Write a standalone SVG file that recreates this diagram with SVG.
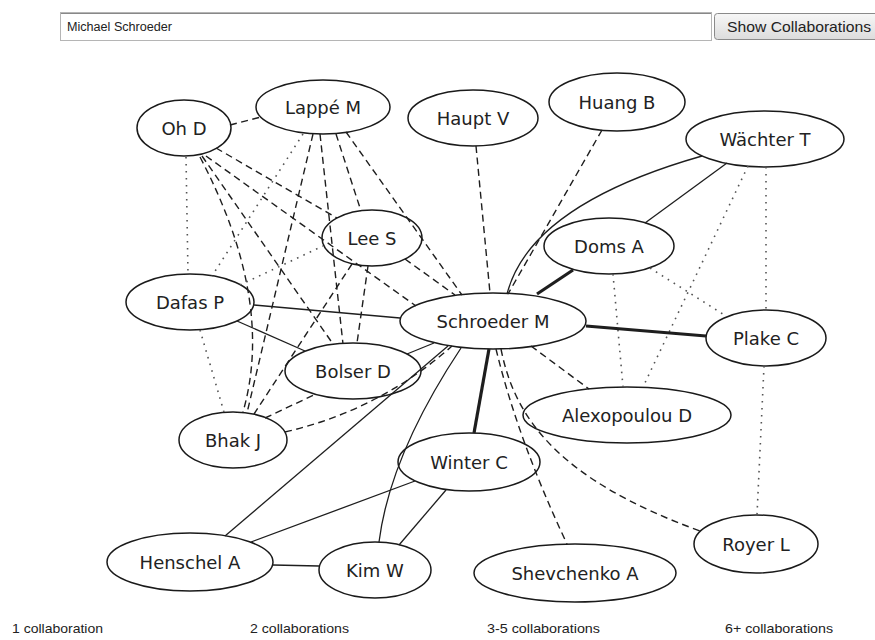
<svg xmlns="http://www.w3.org/2000/svg" width="875" height="640" viewBox="0 0 875 640">
<defs>
<linearGradient id="btn" x1="0" y1="0" x2="0" y2="1">
<stop offset="0" stop-color="#f7f7f7"/><stop offset="1" stop-color="#dcdcdc"/>
</linearGradient>
<style>
.node ellipse{fill:#fff;stroke:#1a1a1a;stroke-width:1.5}
.node text{font-family:"DejaVu Sans",sans-serif;font-size:18px;fill:#222;text-anchor:middle}
.e{fill:none;stroke:#1e1e1e}
.dot{stroke-width:1.6;stroke-dasharray:1.6 5.4;stroke:#555}
.dash{stroke-width:1.4;stroke-dasharray:7 4.5}
.thin{stroke-width:1.3}
.thick{stroke-width:3.2}
.ui{font-family:"Liberation Sans",Arial,sans-serif;fill:#222}
.leg{font-family:"Liberation Sans",Arial,sans-serif;font-size:13px;fill:#222}
</style>
</defs>
<rect width="875" height="640" fill="#fff"/>
<g id="search">
<rect x="60.5" y="12.5" width="651" height="28" fill="#fff" stroke="#b5b5b5"/>
<line x1="61" y1="13.5" x2="711" y2="13.5" stroke="#888"/>
<text class="ui" x="67" y="30.5" font-size="12.5" textLength="105" lengthAdjust="spacingAndGlyphs">Michael Schroeder</text>
</g>
<g id="button">
<rect x="714.5" y="13.5" width="170" height="26" rx="3" fill="url(#btn)" stroke="#8a8a8a"/>
<text class="ui" x="727" y="31.5" font-size="15" textLength="144" lengthAdjust="spacingAndGlyphs">Show Collaborations</text>
</g>
<g id="n-ohd" class="node"><ellipse cx="184" cy="128" rx="47" ry="28"/><text x="184" y="134.5">Oh D</text></g>
<g id="n-lappe" class="node"><ellipse cx="323" cy="107" rx="67" ry="27"/><text x="323" y="113.5">Lappé M</text></g>
<g id="n-haupt" class="node"><ellipse cx="473" cy="118" rx="65" ry="28"/><text x="473" y="124.5">Haupt V</text></g>
<g id="n-huang" class="node"><ellipse cx="617" cy="102" rx="68" ry="29"/><text x="617" y="108.5">Huang B</text></g>
<g id="n-waechter" class="node"><ellipse cx="765" cy="139" rx="79" ry="28"/><text x="765" y="145.5">Wächter T</text></g>
<g id="n-lee" class="node"><ellipse cx="372" cy="238" rx="50" ry="28"/><text x="372" y="244.5">Lee S</text></g>
<g id="n-doms" class="node"><ellipse cx="609" cy="246" rx="65" ry="28"/><text x="609" y="252.5">Doms A</text></g>
<g id="n-dafas" class="node"><ellipse cx="190" cy="302" rx="64" ry="28"/><text x="190" y="308.5">Dafas P</text></g>
<g id="n-schroeder" class="node"><ellipse cx="493" cy="321" rx="93" ry="28"/><text x="493" y="327.5">Schroeder M</text></g>
<g id="n-plake" class="node"><ellipse cx="766" cy="338" rx="60" ry="28"/><text x="766" y="344.5">Plake C</text></g>
<g id="n-bolser" class="node"><ellipse cx="353" cy="371" rx="68" ry="28"/><text x="353" y="377.5">Bolser D</text></g>
<g id="n-alexopoulou" class="node"><ellipse cx="627" cy="415" rx="104" ry="28"/><text x="627" y="421.5">Alexopoulou D</text></g>
<g id="n-bhak" class="node"><ellipse cx="233" cy="440" rx="54" ry="28"/><text x="233" y="446.5">Bhak J</text></g>
<g id="n-winter" class="node"><ellipse cx="469" cy="462" rx="71" ry="29"/><text x="469" y="468.5">Winter C</text></g>
<g id="n-henschel" class="node"><ellipse cx="190" cy="562" rx="83" ry="29"/><text x="190" y="568.5">Henschel A</text></g>
<g id="n-kim" class="node"><ellipse cx="375" cy="570" rx="56" ry="28"/><text x="375" y="576.5">Kim W</text></g>
<g id="n-shevchenko" class="node"><ellipse cx="575" cy="573" rx="101" ry="29"/><text x="575" y="579.5">Shevchenko A</text></g>
<g id="n-royer" class="node"><ellipse cx="756" cy="544" rx="62" ry="29"/><text x="756" y="550.5">Royer L</text></g>
<g id="connectors">
<path class="e dash" d="M230,125 L261,117"/>
<path class="e dot" d="M186,157 L188,274"/>
<path class="e dash" d="M216,148 L337,218"/>
<path class="e dash" d="M206,156 L416,306"/>
<path class="e dash" d="M202,156 L333,344"/>
<path class="e dash" d="M200,157 Q275,300 243,412"/>
<path class="e dot" d="M303,134 L212,276"/>
<path class="e dash" d="M313,134 L247,413"/>
<path class="e dash" d="M320,134 L343,344"/>
<path class="e dash" d="M336,134 L361,211"/>
<path class="e dash" d="M346,132 L462,295"/>
<path class="e dot" d="M240,285 L323,246"/>
<path class="e thin" d="M254,305 L400,318"/>
<path class="e thin" d="M237,321 L305,351"/>
<path class="e dot" d="M200,330 L224,412"/>
<path class="e dash" d="M405,259 L455,295"/>
<path class="e dash" d="M368,266 L357,343"/>
<path class="e dash" d="M352,264 L254,414"/>
<path class="e dash" d="M265,418 L316,394"/>
<path class="e dash" d="M476,146 L490,293"/>
<path class="e dash" d="M602,130 L508,294"/>
<path class="e thin" d="M702,156 Q530,205 507,294"/>
<path class="e thick" d="M537,294 L573,270"/>
<path class="e thin" d="M645,223 L727,163"/>
<path class="e dot" d="M613,274 L623,387"/>
<path class="e dot" d="M650,268 L726,316"/>
<path class="e dot" d="M748,166 L643,387"/>
<path class="e dot" d="M766,167 L766,310"/>
<path class="e thick" d="M586,326 L706,336"/>
<path class="e dash" d="M531,346 L589,389"/>
<path class="e thick" d="M489,349 L474,433"/>
<path class="e dash" d="M496,349 Q518,440 567,544"/>
<path class="e dash" d="M501,349 C515,420 560,480 700,531"/>
<path class="e thin" d="M434,343 L407,354"/>
<path class="e dash" d="M285,432 Q380,410 452,346"/>
<path class="e thin" d="M448,346 L225,536"/>
<path class="e thin" d="M461,348 Q390,455 379,542"/>
<path class="e thin" d="M415,481 L251,542"/>
<path class="e thin" d="M446,490 L399,545"/>
<path class="e thin" d="M273,565 L319,566"/>
<path class="e dot" d="M764,366 L757,515"/>
</g>
<g id="legend">
<text class="leg" x="12" y="633" textLength="91" lengthAdjust="spacingAndGlyphs">1 collaboration</text>
<text class="leg" x="250" y="633" textLength="99" lengthAdjust="spacingAndGlyphs">2 collaborations</text>
<text class="leg" x="487" y="633" textLength="113" lengthAdjust="spacingAndGlyphs">3-5 collaborations</text>
<text class="leg" x="725" y="633" textLength="108" lengthAdjust="spacingAndGlyphs">6+ collaborations</text>
</g>
</svg>
